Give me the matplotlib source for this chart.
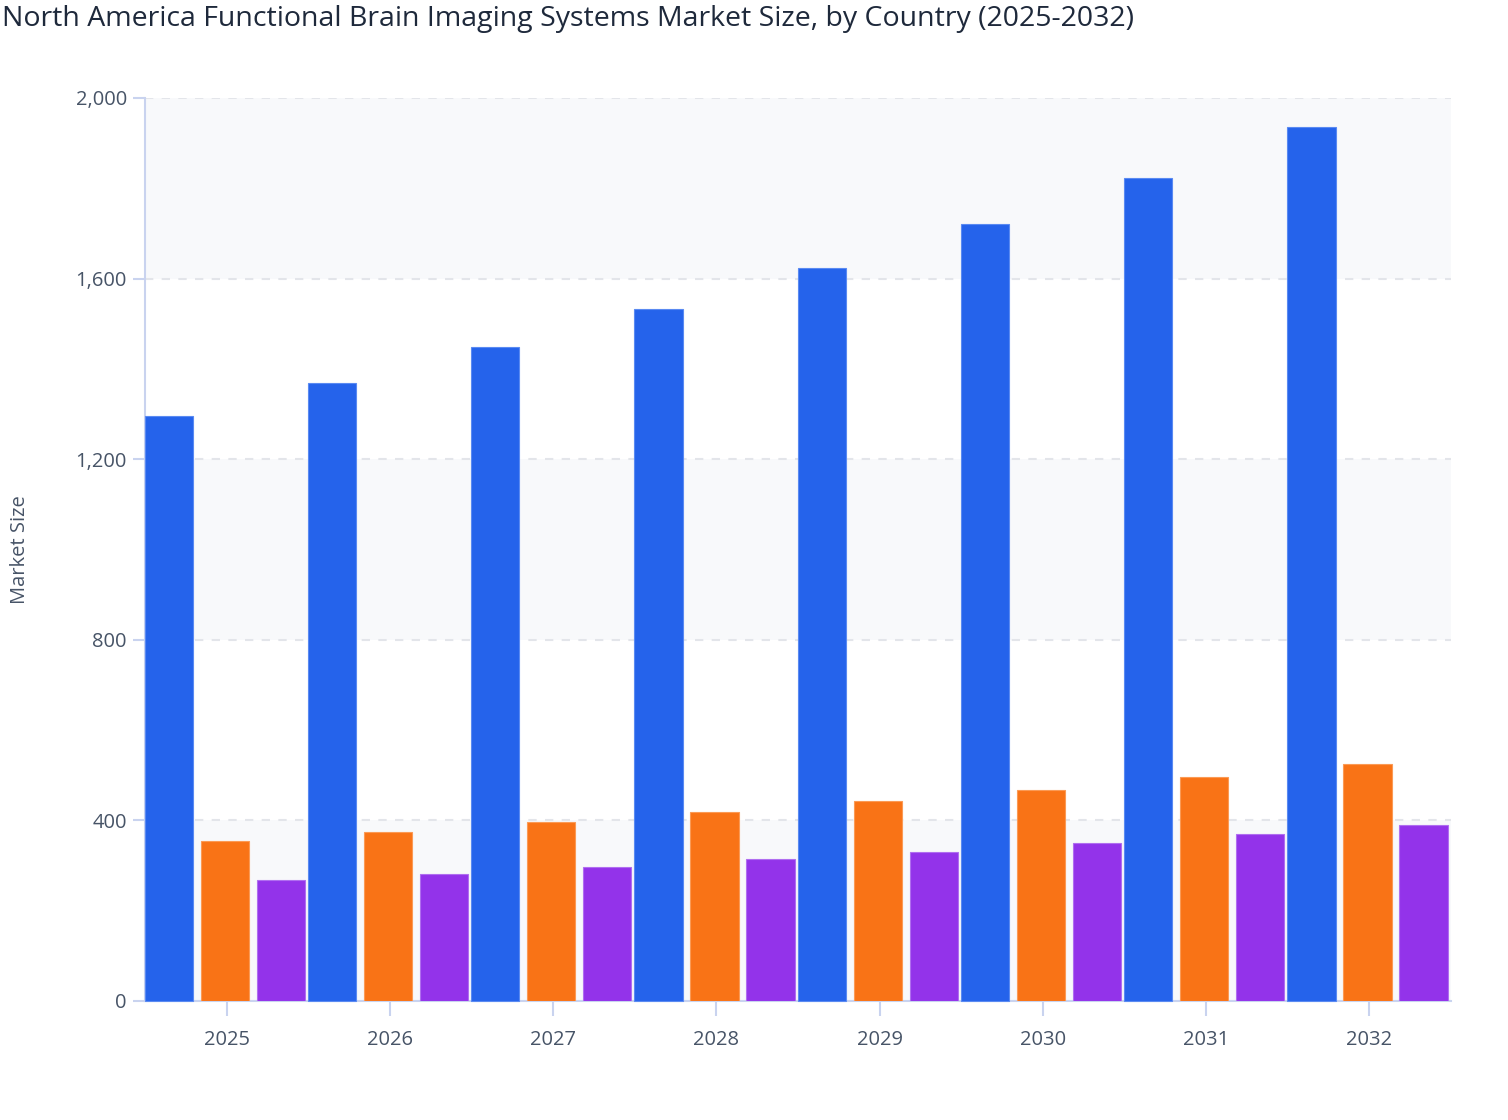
import matplotlib.pyplot as plt
import numpy as np

# data
years = ["2025", "2026", "2027", "2028", "2029", "2030", "2031", "2032"]
usa = [1296, 1369, 1448, 1533, 1623, 1721, 1823, 1936]
canada = [354, 374, 396, 419, 443, 467, 496, 525]
mexico = [268, 281, 297, 314, 330, 350, 370, 390]

plt.rcParams['font.family'] = ['Open Sans', 'DejaVu Sans']

fig = plt.figure(figsize=(15.08, 11.2), dpi=100)
ax = fig.add_axes([145/1508, 1-1001/1120, (1451-145)/1508, (1001-98)/1120])

# alternating light bands
for lo in [0, 800, 1600]:
    ax.axhspan(lo, lo + 400, color="#f8f9fb", zorder=0, lw=0)

x = np.arange(len(years))
w = 0.296
ax.bar(x - 0.355, usa, w, color="#2563eb", edgecolor="#5a8af2", linewidth=0.8, zorder=3, clip_on=False)
ax.bar(x - 0.012, canada, w, color="#f97316", edgecolor="#fb9a55", linewidth=0.8, zorder=3)
ax.bar(x + 0.332, mexico, w, color="#9333ea", edgecolor="#b06ef0", linewidth=0.8, zorder=3)

ax.set_xlim(-0.5, 7.5)
ax.set_ylim(0, 2000)
ax.set_yticks([0, 400, 800, 1200, 1600, 2000])
ax.set_yticklabels(["0", "400", "800", "1,200", "1,600", "2,000"])
ax.set_xticks(x)
ax.set_xticklabels(years)

ax.grid(axis="y", color="#e3e5ea", linestyle=(0, (4, 4)), linewidth=1.5, zorder=1)
ax.set_axisbelow(True)

for s in ["top", "right"]:
    ax.spines[s].set_visible(False)
for s in ["left", "bottom"]:
    ax.spines[s].set_color("#c9d3ef")
    ax.spines[s].set_linewidth(1.5)

ax.tick_params(axis="y", length=9, width=1.5, color="#c9d3ef", labelsize=14.5, labelcolor="#475467", pad=4)
ax.tick_params(axis="x", length=11, width=1.5, color="#c9d3ef", labelsize=14.5, labelcolor="#475467", pad=10)

ax.set_ylabel("Market Size", fontsize=14.5, color="#475467", labelpad=33)

fig.text(0.001, 1-19/1120, "North America Functional Brain Imaging Systems Market Size, by Country (2025-2032)",
         fontsize=20.5, color="#1e293b", ha="left", va="center")

fig.savefig("out.png", dpi=100)
